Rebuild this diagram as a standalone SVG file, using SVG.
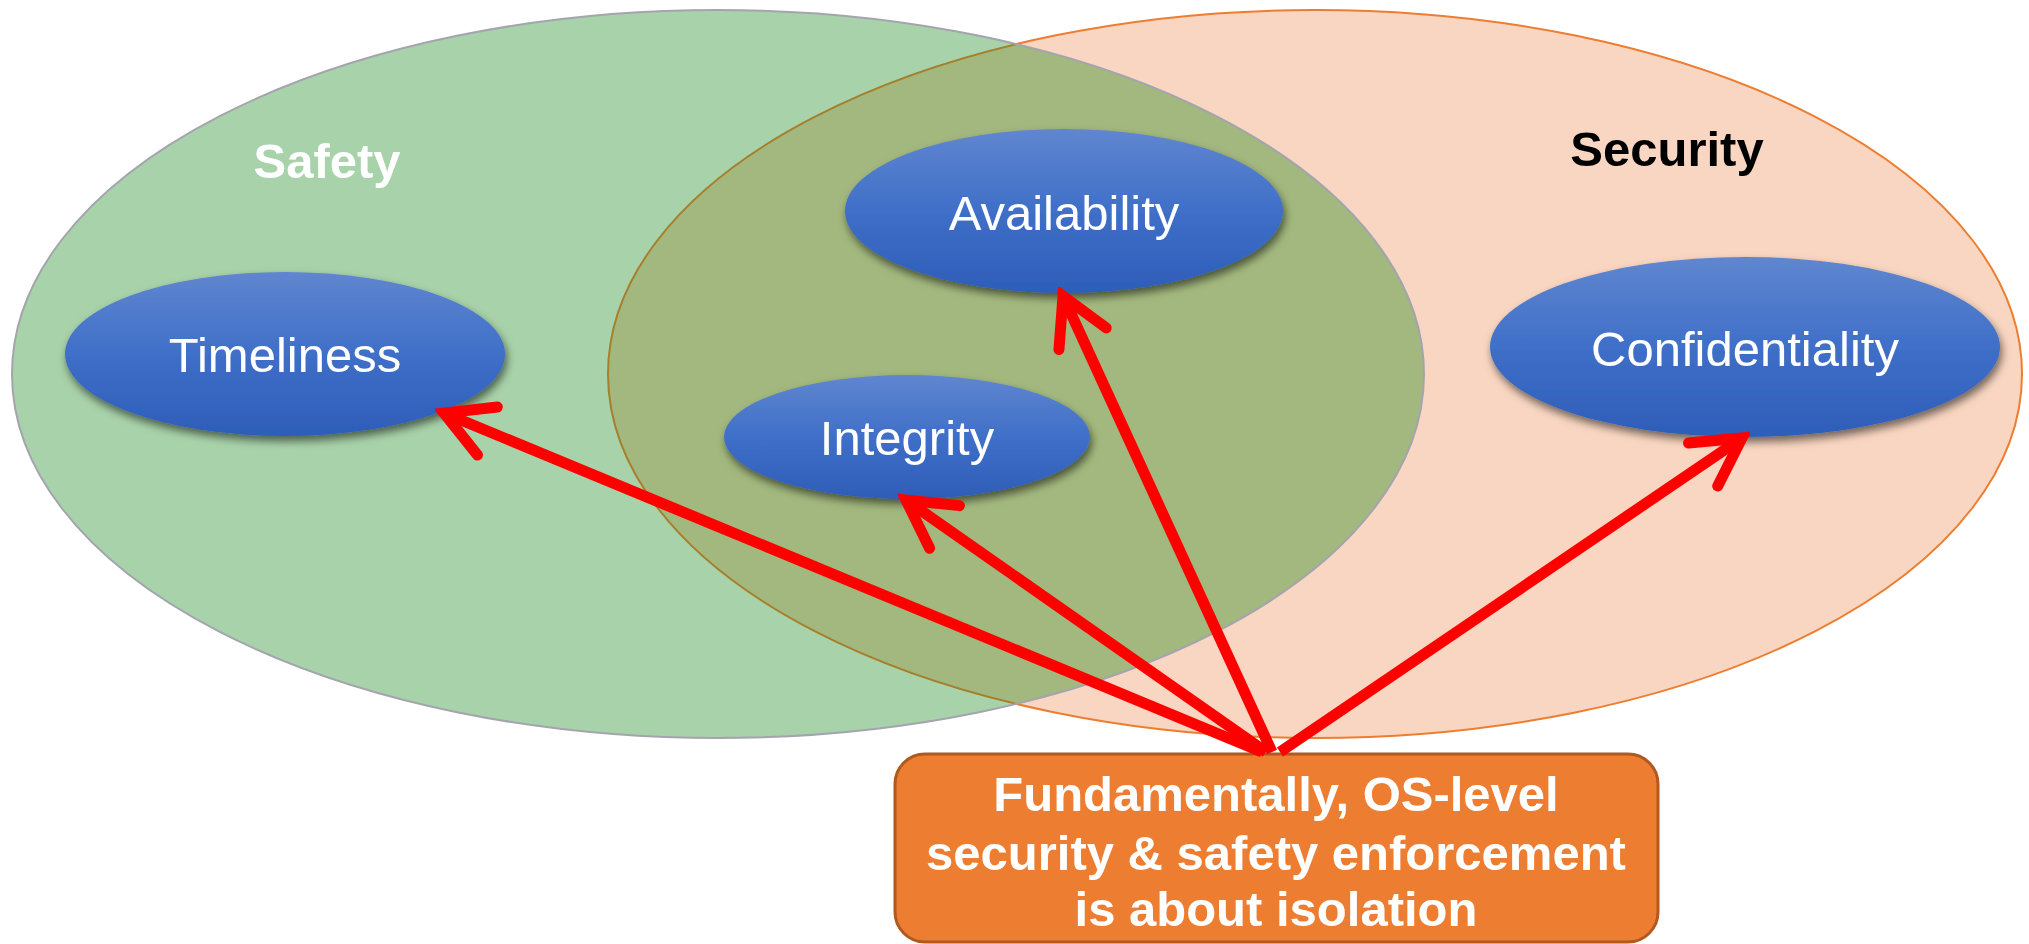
<svg xmlns="http://www.w3.org/2000/svg" width="2029" height="944" viewBox="0 0 2029 944">
<style>
.lbl{font-family:"Liberation Sans",Arial,sans-serif;font-size:49px;text-anchor:middle}
.b{font-weight:bold}
.node{fill:url(#blue);filter:url(#sh)}
.nt{fill:#fff}
.arr{stroke:#FF0000;stroke-width:11;fill:none;marker-end:url(#ah)}
</style>
<defs>
<linearGradient id="blue" x1="0" y1="0" x2="0" y2="1">
<stop offset="0" stop-color="#6086CF"/>
<stop offset="0.5" stop-color="#3F6FC8"/>
<stop offset="1" stop-color="#2D5DB8"/>
</linearGradient>
<filter id="sh" x="-20%" y="-20%" width="140%" height="150%">
<feDropShadow dx="2" dy="5" stdDeviation="4" flood-color="#000" flood-opacity="0.55"/>
</filter>
<clipPath id="secClip"><ellipse cx="1315" cy="374" rx="707" ry="364"/></clipPath>
<clipPath id="safClip"><ellipse cx="718" cy="374" rx="706" ry="364"/></clipPath>
<marker id="ah" markerUnits="userSpaceOnUse" viewBox="-60 -40 70 80" refX="0" refY="0" markerWidth="70" markerHeight="80" orient="auto">
<path d="M -47 -26 L 0 0 L -47 26" fill="none" stroke="#FF0000" stroke-width="11" stroke-linecap="round" stroke-linejoin="miter"/>
</marker>
</defs>
<g id="security-area">
<ellipse cx="1315" cy="374" rx="707" ry="364" fill="#F9D6C1" stroke="#ED7D31" stroke-width="2"/>
</g>
<g id="safety-area">
<ellipse cx="718" cy="374" rx="706" ry="364" fill="#A8D2A9"/>
<ellipse cx="718" cy="374" rx="706" ry="364" fill="#A3B87E" clip-path="url(#secClip)"/>
<ellipse cx="1315" cy="374" rx="707" ry="364" fill="none" stroke="#A67F2B" stroke-width="2" clip-path="url(#safClip)"/>
<ellipse cx="718" cy="374" rx="706" ry="364" fill="none" stroke="#A4A4AE" stroke-width="2"/>
</g>
<text class="lbl b" x="327" y="178" fill="#fff">Safety</text>
<text class="lbl b" x="1667" y="166" fill="#000">Security</text>
<g id="timeliness">
<ellipse class="node" cx="285" cy="354" rx="220" ry="82"/>
<text class="lbl nt" x="285" y="372">Timeliness</text>
</g>
<g id="availability">
<ellipse class="node" cx="1064" cy="211" rx="219" ry="82"/>
<text class="lbl nt" x="1064" y="230">Availability</text>
</g>
<g id="integrity">
<ellipse class="node" cx="907" cy="437" rx="183" ry="62"/>
<text class="lbl nt" x="907" y="455">Integrity</text>
</g>
<g id="confidentiality">
<ellipse class="node" cx="1745" cy="347" rx="255" ry="90"/>
<text class="lbl nt" x="1745" y="366">Confidentiality</text>
</g>
<g id="isolation">
<rect x="895" y="754" width="763" height="188" rx="30" ry="30" fill="#ED7D31" stroke="#AE5A21" stroke-width="3"/>
<text class="lbl b nt" x="1276" y="811">Fundamentally, OS-level</text>
<text class="lbl b nt" x="1276" y="870">security &amp; safety enforcement</text>
<text class="lbl b nt" x="1276" y="926">is about isolation</text>
</g>
<g id="connectors">
<line class="arr" x1="1262" y1="752" x2="444" y2="413"/>
<line class="arr" x1="1266" y1="752" x2="906" y2="500"/>
<line class="arr" x1="1272" y1="752" x2="1063" y2="296"/>
<line class="arr" x1="1280" y1="752" x2="1742" y2="438"/>
</g>
</svg>
